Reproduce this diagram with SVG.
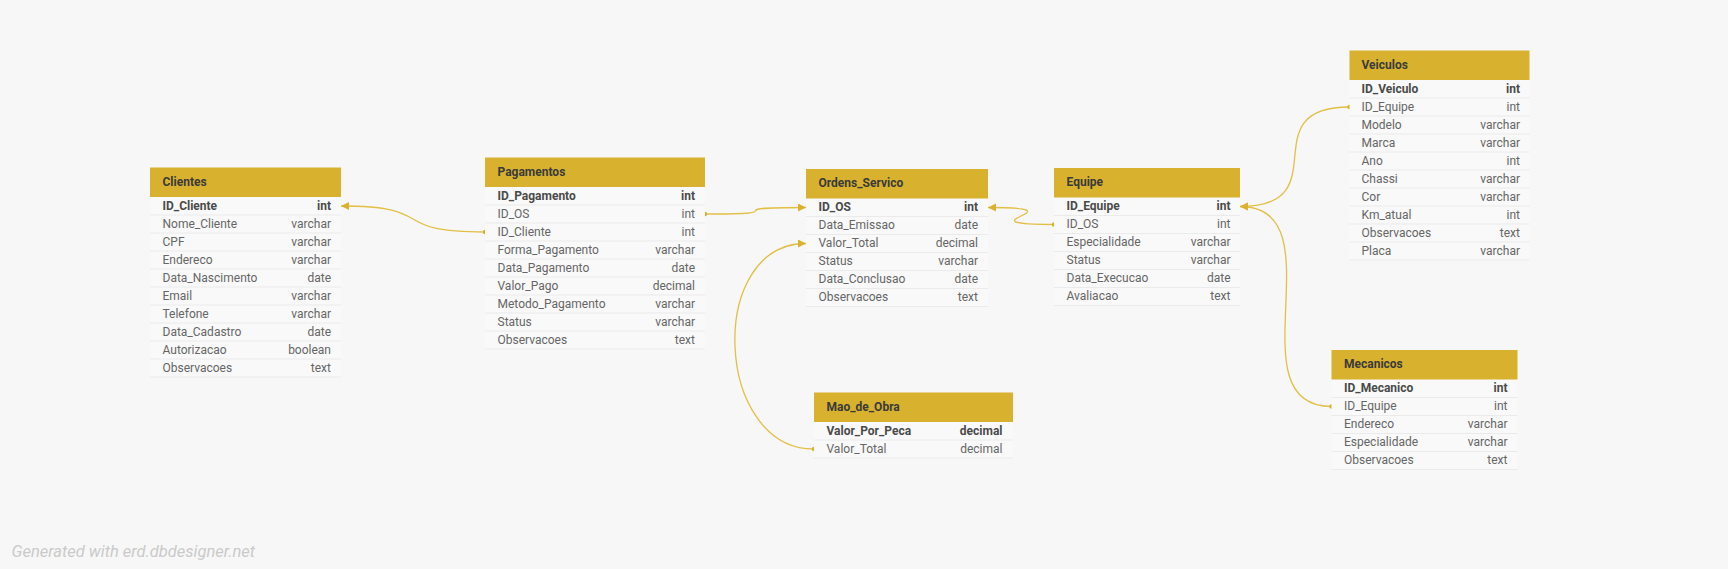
<svg xmlns="http://www.w3.org/2000/svg" width="1728" height="569" viewBox="0 0 1728 569">
<style>
.hd{fill:#d8b22e}
.bd{fill:#f9f9f9}
.sep{stroke:#ebebeb;stroke-width:1}
.t{font-family:Roboto,"Liberation Sans",sans-serif;font-size:12px;fill:#666666}
.pk{font-weight:bold;fill:#4a4a4a}
.ty{text-anchor:end}
.ht{font-family:Roboto,"Liberation Sans",sans-serif;font-size:12px;font-weight:bold;fill:#3a3a3a}
.ln{fill:none;stroke:#e2bf45;stroke-width:1.3}
.ft{font-family:Roboto,"Liberation Sans",sans-serif;font-size:16.5px;font-style:italic;fill:#cacaca}
</style>
<defs>
<marker id="arr" markerUnits="userSpaceOnUse" markerWidth="10" markerHeight="10" refX="8" refY="4" orient="auto-start-reverse"><path d="M0,0 L8,4 L0,8 z" fill="#d9b22f"/></marker>
<marker id="dot" markerUnits="userSpaceOnUse" markerWidth="6" markerHeight="6" refX="3" refY="3"><circle cx="3" cy="3" r="2.2" fill="#d9b22f"/></marker>
</defs>
<rect width="1728" height="569" fill="#f7f7f7"/>

<g id="connectors">
<path class="ln" d="M341,206 C441,206 385,232 485,232" marker-start="url(#arr)" marker-end="url(#dot)"/>
<path class="ln" d="M705,214 C805,214 706,207.5 806,207.5" marker-start="url(#dot)" marker-end="url(#arr)"/>
<path class="ln" d="M988,207.5 C1088,207.5 954,224.5 1054,224.5" marker-start="url(#arr)" marker-end="url(#dot)"/>
<path class="ln" d="M806,243.5 C706,243.5 714,449 814,449" marker-start="url(#arr)" marker-end="url(#dot)"/>
<path class="ln" d="M1240,206.5 C1340,206.5 1249.5,107 1349.5,107" marker-start="url(#arr)" marker-end="url(#dot)"/>
<path class="ln" d="M1240,206.5 C1340,206.5 1231.5,406.5 1331.5,406.5" marker-start="url(#arr)" marker-end="url(#dot)"/>
</g>

<g id="Clientes">
<rect class="bd" x="150" y="197" width="191" height="180"/>
<rect class="hd" x="150" y="167.5" width="191" height="29.5"/>
<text class="ht" x="162.5" y="185.5">Clientes</text>
<g class="sep">
<line x1="150" y1="215" x2="341" y2="215"/><line x1="150" y1="233" x2="341" y2="233"/><line x1="150" y1="251" x2="341" y2="251"/><line x1="150" y1="269" x2="341" y2="269"/><line x1="150" y1="287" x2="341" y2="287"/><line x1="150" y1="305" x2="341" y2="305"/><line x1="150" y1="323" x2="341" y2="323"/><line x1="150" y1="341" x2="341" y2="341"/><line x1="150" y1="359" x2="341" y2="359"/><line x1="150" y1="377" x2="341" y2="377"/>
</g>
<text class="t pk" x="162.5" y="209.5">ID_Cliente</text><text class="t pk ty" x="331" y="209.5">int</text>
<text class="t" x="162.5" y="227.5">Nome_Cliente</text><text class="t ty" x="331" y="227.5">varchar</text>
<text class="t" x="162.5" y="245.5">CPF</text><text class="t ty" x="331" y="245.5">varchar</text>
<text class="t" x="162.5" y="263.5">Endereco</text><text class="t ty" x="331" y="263.5">varchar</text>
<text class="t" x="162.5" y="281.5">Data_Nascimento</text><text class="t ty" x="331" y="281.5">date</text>
<text class="t" x="162.5" y="299.5">Email</text><text class="t ty" x="331" y="299.5">varchar</text>
<text class="t" x="162.5" y="317.5">Telefone</text><text class="t ty" x="331" y="317.5">varchar</text>
<text class="t" x="162.5" y="335.5">Data_Cadastro</text><text class="t ty" x="331" y="335.5">date</text>
<text class="t" x="162.5" y="353.5">Autorizacao</text><text class="t ty" x="331" y="353.5">boolean</text>
<text class="t" x="162.5" y="371.5">Observacoes</text><text class="t ty" x="331" y="371.5">text</text>
</g>

<g id="Pagamentos">
<rect class="bd" x="485" y="187" width="220" height="162"/>
<rect class="hd" x="485" y="157.5" width="220" height="29.5"/>
<text class="ht" x="497.5" y="175.5">Pagamentos</text>
<g class="sep">
<line x1="485" y1="205" x2="705" y2="205"/><line x1="485" y1="223" x2="705" y2="223"/><line x1="485" y1="241" x2="705" y2="241"/><line x1="485" y1="259" x2="705" y2="259"/><line x1="485" y1="277" x2="705" y2="277"/><line x1="485" y1="295" x2="705" y2="295"/><line x1="485" y1="313" x2="705" y2="313"/><line x1="485" y1="331" x2="705" y2="331"/><line x1="485" y1="349" x2="705" y2="349"/>
</g>
<text class="t pk" x="497.5" y="199.5">ID_Pagamento</text><text class="t pk ty" x="695" y="199.5">int</text>
<text class="t" x="497.5" y="217.5">ID_OS</text><text class="t ty" x="695" y="217.5">int</text>
<text class="t" x="497.5" y="235.5">ID_Cliente</text><text class="t ty" x="695" y="235.5">int</text>
<text class="t" x="497.5" y="253.5">Forma_Pagamento</text><text class="t ty" x="695" y="253.5">varchar</text>
<text class="t" x="497.5" y="271.5">Data_Pagamento</text><text class="t ty" x="695" y="271.5">date</text>
<text class="t" x="497.5" y="289.5">Valor_Pago</text><text class="t ty" x="695" y="289.5">decimal</text>
<text class="t" x="497.5" y="307.5">Metodo_Pagamento</text><text class="t ty" x="695" y="307.5">varchar</text>
<text class="t" x="497.5" y="325.5">Status</text><text class="t ty" x="695" y="325.5">varchar</text>
<text class="t" x="497.5" y="343.5">Observacoes</text><text class="t ty" x="695" y="343.5">text</text>
</g>

<g id="Ordens_Servico">
<rect class="bd" x="806" y="198.5" width="182" height="108"/>
<rect class="hd" x="806" y="169" width="182" height="29.5"/>
<text class="ht" x="818.5" y="187">Ordens_Servico</text>
<g class="sep">
<line x1="806" y1="216.5" x2="988" y2="216.5"/><line x1="806" y1="234.5" x2="988" y2="234.5"/><line x1="806" y1="252.5" x2="988" y2="252.5"/><line x1="806" y1="270.5" x2="988" y2="270.5"/><line x1="806" y1="288.5" x2="988" y2="288.5"/><line x1="806" y1="306.5" x2="988" y2="306.5"/>
</g>
<text class="t pk" x="818.5" y="211">ID_OS</text><text class="t pk ty" x="978" y="211">int</text>
<text class="t" x="818.5" y="229">Data_Emissao</text><text class="t ty" x="978" y="229">date</text>
<text class="t" x="818.5" y="247">Valor_Total</text><text class="t ty" x="978" y="247">decimal</text>
<text class="t" x="818.5" y="265">Status</text><text class="t ty" x="978" y="265">varchar</text>
<text class="t" x="818.5" y="283">Data_Conclusao</text><text class="t ty" x="978" y="283">date</text>
<text class="t" x="818.5" y="301">Observacoes</text><text class="t ty" x="978" y="301">text</text>
</g>

<g id="Equipe">
<rect class="bd" x="1054" y="197.5" width="186" height="108"/>
<rect class="hd" x="1054" y="168" width="186" height="29.5"/>
<text class="ht" x="1066.5" y="186">Equipe</text>
<g class="sep">
<line x1="1054" y1="215.5" x2="1240" y2="215.5"/><line x1="1054" y1="233.5" x2="1240" y2="233.5"/><line x1="1054" y1="251.5" x2="1240" y2="251.5"/><line x1="1054" y1="269.5" x2="1240" y2="269.5"/><line x1="1054" y1="287.5" x2="1240" y2="287.5"/><line x1="1054" y1="305.5" x2="1240" y2="305.5"/>
</g>
<text class="t pk" x="1066.5" y="210">ID_Equipe</text><text class="t pk ty" x="1230.5" y="210">int</text>
<text class="t" x="1066.5" y="228">ID_OS</text><text class="t ty" x="1230.5" y="228">int</text>
<text class="t" x="1066.5" y="246">Especialidade</text><text class="t ty" x="1230.5" y="246">varchar</text>
<text class="t" x="1066.5" y="264">Status</text><text class="t ty" x="1230.5" y="264">varchar</text>
<text class="t" x="1066.5" y="282">Data_Execucao</text><text class="t ty" x="1230.5" y="282">date</text>
<text class="t" x="1066.5" y="300">Avaliacao</text><text class="t ty" x="1230.5" y="300">text</text>
</g>

<g id="Veiculos">
<rect class="bd" x="1349.5" y="80" width="180" height="180"/>
<rect class="hd" x="1349.5" y="50.5" width="180" height="29.5"/>
<text class="ht" x="1361.5" y="68.5">Veiculos</text>
<g class="sep">
<line x1="1349.5" y1="98" x2="1529.5" y2="98"/><line x1="1349.5" y1="116" x2="1529.5" y2="116"/><line x1="1349.5" y1="134" x2="1529.5" y2="134"/><line x1="1349.5" y1="152" x2="1529.5" y2="152"/><line x1="1349.5" y1="170" x2="1529.5" y2="170"/><line x1="1349.5" y1="188" x2="1529.5" y2="188"/><line x1="1349.5" y1="206" x2="1529.5" y2="206"/><line x1="1349.5" y1="224" x2="1529.5" y2="224"/><line x1="1349.5" y1="242" x2="1529.5" y2="242"/><line x1="1349.5" y1="260" x2="1529.5" y2="260"/>
</g>
<text class="t pk" x="1361.5" y="92.5">ID_Veiculo</text><text class="t pk ty" x="1520" y="92.5">int</text>
<text class="t" x="1361.5" y="110.5">ID_Equipe</text><text class="t ty" x="1520" y="110.5">int</text>
<text class="t" x="1361.5" y="128.5">Modelo</text><text class="t ty" x="1520" y="128.5">varchar</text>
<text class="t" x="1361.5" y="146.5">Marca</text><text class="t ty" x="1520" y="146.5">varchar</text>
<text class="t" x="1361.5" y="164.5">Ano</text><text class="t ty" x="1520" y="164.5">int</text>
<text class="t" x="1361.5" y="182.5">Chassi</text><text class="t ty" x="1520" y="182.5">varchar</text>
<text class="t" x="1361.5" y="200.5">Cor</text><text class="t ty" x="1520" y="200.5">varchar</text>
<text class="t" x="1361.5" y="218.5">Km_atual</text><text class="t ty" x="1520" y="218.5">int</text>
<text class="t" x="1361.5" y="236.5">Observacoes</text><text class="t ty" x="1520" y="236.5">text</text>
<text class="t" x="1361.5" y="254.5">Placa</text><text class="t ty" x="1520" y="254.5">varchar</text>
</g>

<g id="Mao_de_Obra">
<rect class="bd" x="814" y="422" width="199" height="36"/>
<rect class="hd" x="814" y="392.5" width="199" height="29.5"/>
<text class="ht" x="826.5" y="410.5">Mao_de_Obra</text>
<g class="sep">
<line x1="814" y1="440" x2="1013" y2="440"/><line x1="814" y1="458" x2="1013" y2="458"/>
</g>
<text class="t pk" x="826.5" y="434.5">Valor_Por_Peca</text><text class="t pk ty" x="1002.5" y="434.5">decimal</text>
<text class="t" x="826.5" y="452.5">Valor_Total</text><text class="t ty" x="1002.5" y="452.5">decimal</text>
</g>

<g id="Mecanicos">
<rect class="bd" x="1331.5" y="379.5" width="186" height="90"/>
<rect class="hd" x="1331.5" y="350" width="186" height="29.5"/>
<text class="ht" x="1344" y="368">Mecanicos</text>
<g class="sep">
<line x1="1331.5" y1="397.5" x2="1517.5" y2="397.5"/><line x1="1331.5" y1="415.5" x2="1517.5" y2="415.5"/><line x1="1331.5" y1="433.5" x2="1517.5" y2="433.5"/><line x1="1331.5" y1="451.5" x2="1517.5" y2="451.5"/><line x1="1331.5" y1="469.5" x2="1517.5" y2="469.5"/>
</g>
<text class="t pk" x="1344" y="392">ID_Mecanico</text><text class="t pk ty" x="1507.5" y="392">int</text>
<text class="t" x="1344" y="410">ID_Equipe</text><text class="t ty" x="1507.5" y="410">int</text>
<text class="t" x="1344" y="428">Endereco</text><text class="t ty" x="1507.5" y="428">varchar</text>
<text class="t" x="1344" y="446">Especialidade</text><text class="t ty" x="1507.5" y="446">varchar</text>
<text class="t" x="1344" y="464">Observacoes</text><text class="t ty" x="1507.5" y="464">text</text>
</g>

<text class="ft" x="11.5" y="557">Generated with erd.dbdesigner.net</text>
</svg>
